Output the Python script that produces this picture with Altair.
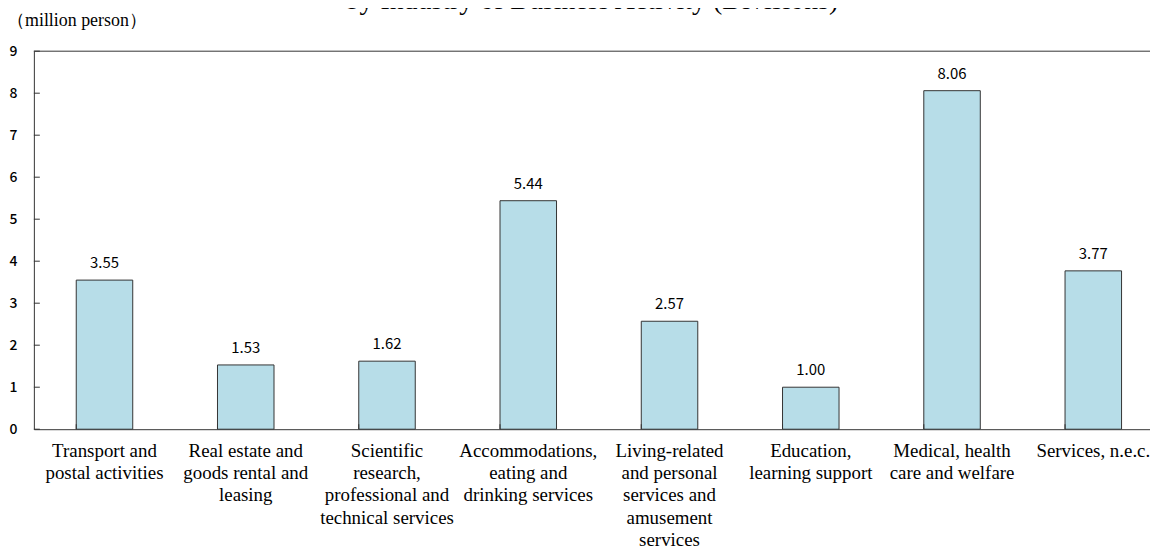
import altair as alt
import pandas as pd

categories = [
    "Transport and|postal activities",
    "Real estate and|goods rental and|leasing",
    "Scientific|research,|professional and|technical services",
    "Accommodations,|eating and|drinking services",
    "Living-related|and personal|services and|amusement|services",
    "Education,|learning support",
    "Medical, health|care and welfare",
    "Services, n.e.c.",
]
values = [3.55, 1.53, 1.62, 5.44, 2.57, 1.00, 8.06, 3.77]
y_ticks = [0, 1, 2, 3, 4, 5, 6, 7, 8, 9]
title_text = ["by Industry of Business Activity (Divisions)"]
unit_text = ["（million person）"]

df = pd.DataFrame({"cat": categories, "val": values})
df["label"] = [f"{v:.2f}" for v in values]

LINE = "#333333"
SERIF = "Liberation Serif"
SANS = "Noto Sans CJK JP"

x_scale = alt.Scale(range=[0, 1136], paddingInner=0.6, paddingOuter=0.3)
x_axis = alt.Axis(
    title=None, labelAngle=0, tickSize=0, labelPadding=12,
    labelFont=SERIF, labelFontSize=19, labelLineHeight=22.5,
    labelColor="#000000", labelLimit=0, labelOverlap=False,
    labelExpr="split(datum.label, '|')", labelBaseline="top",
    domainColor=LINE, domainWidth=1,
)
y_axis = alt.Axis(
    title=None, values=y_ticks, tickSize=0, labelPadding=17, grid=False,
    labelFont=SANS, labelFontSize=14, labelFontWeight=500, labelColor="#000000",
    domainColor=LINE, domainWidth=1, format="d",
)
x_enc = alt.X("cat:N", sort=categories, scale=x_scale, axis=x_axis)
y_enc = alt.Y("val:Q", scale=alt.Scale(domain=[0, 9], nice=False), axis=y_axis)

bars = alt.Chart(df).mark_bar(fill="#b7dde8", stroke=LINE, strokeWidth=1).encode(
    x=x_enc, y=y_enc
)
labels = alt.Chart(df).mark_text(
    baseline="alphabetic", dy=-12, font=SANS, fontSize=15, color="#000000"
).encode(x=alt.X("cat:N", sort=categories), y="val:Q", text="label:N")

xticks = alt.Chart(df).mark_rule(color=LINE, strokeWidth=1).encode(
    x=alt.X("cat:N", sort=categories, bandPosition=0),
    y=alt.value(380), y2=alt.value(375),
)
yticks = alt.Chart(pd.DataFrame({"val": y_ticks})).mark_rule(
    color=LINE, strokeWidth=1
).encode(y="val:Q", x=alt.value(0), x2=alt.value(6))

top_line = alt.Chart(pd.DataFrame({"val": [9]})).mark_rule(
    color=LINE, strokeWidth=1
).encode(y="val:Q", x=alt.value(0), x2=alt.value(1136))

title = alt.Chart(pd.DataFrame({"t": title_text})).mark_text(
    font=SERIF, fontSize=28, align="center", baseline="alphabetic", color="#000000"
).encode(x=alt.value(561), y=alt.value(-42.5), text="t:N")

unit = alt.Chart(pd.DataFrame({"t": unit_text})).mark_text(
    font=SERIF, fontSize=18, align="left", baseline="alphabetic", color="#000000"
).encode(x=alt.value(-27), y=alt.value(-25), text="t:N")

chart = alt.layer(bars, labels, xticks, yticks, top_line, title, unit).properties(
    width=1116, height=380,
    autosize=alt.AutoSizeParams(type="none"),
    padding={"left": 26, "top": 42, "right": 6, "bottom": 118},
).configure(background="#ffffff").configure_view(stroke="transparent", strokeWidth=0)

chart.save("out.html", embed_options={"renderer": "svg", "actions": False})
